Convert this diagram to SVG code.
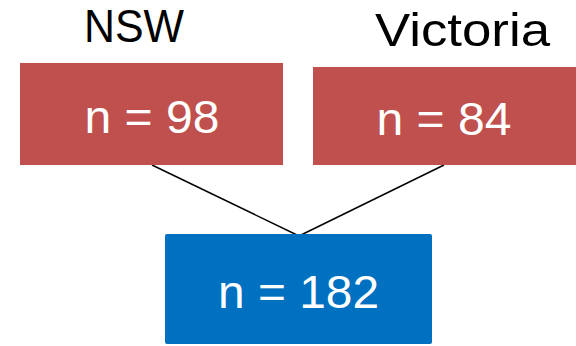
<svg xmlns="http://www.w3.org/2000/svg" width="576" height="346" viewBox="0 0 576 346">
<style>
.lbl{font-family:"Liberation Sans",Arial,sans-serif;font-size:46px;fill:#000}
.val{font-family:"Liberation Sans",Arial,sans-serif;font-size:46px;fill:#fff;text-anchor:middle}
.red{fill:#C0504D}
.blue{fill:#0070C0}
.conn{stroke:#000;stroke-width:1.5;fill:none}
</style>
<rect width="576" height="346" fill="#fff"/>
<g id="connectors">
<line class="conn" x1="152" y1="165" x2="297" y2="235"/>
<line class="conn" x1="444" y1="165" x2="301" y2="235"/>
</g>
<g id="nsw">
<text class="lbl" x="84" y="42" textLength="100" lengthAdjust="spacingAndGlyphs">NSW</text>
<rect class="red" x="20" y="63" width="263" height="102"/>
<text class="val" x="152" y="133" textLength="135" lengthAdjust="spacingAndGlyphs">n = 98</text>
</g>
<g id="victoria">
<text class="lbl" x="375" y="46" textLength="175" lengthAdjust="spacingAndGlyphs">Victoria</text>
<rect class="red" x="313" y="67" width="263" height="98"/>
<text class="val" x="444" y="135" textLength="135" lengthAdjust="spacingAndGlyphs">n = 84</text>
</g>
<g id="total">
<rect class="blue" x="165" y="234" width="267" height="110" rx="2"/>
<text class="val" x="298.5" y="308" textLength="161" lengthAdjust="spacingAndGlyphs">n = 182</text>
</g>
</svg>
